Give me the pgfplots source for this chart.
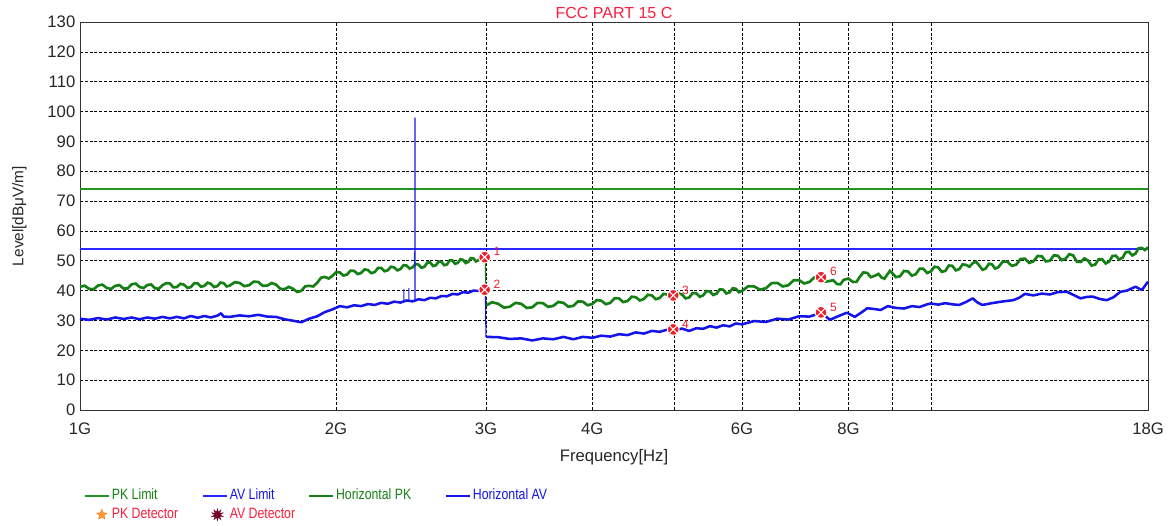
\documentclass[border=0pt]{standalone}
\usepackage{pgfplots}
\pgfplotsset{compat=1.18}
\usepackage{fontspec}
\setmainfont{Liberation Sans}
\newfontfamily\legfont[FakeStretch=0.82]{Liberation Sans}
\usetikzlibrary{shapes.geometric}
\definecolor{pkgreen}{RGB}{22,128,22}
\definecolor{limgreen}{RGB}{34,150,34}
\definecolor{avblue}{RGB}{20,20,235}
\definecolor{limblue}{RGB}{40,40,255}
\definecolor{ttlred}{RGB}{250,30,60}
\definecolor{detred}{RGB}{240,30,40}
\pgfplotsset{
  lineleg/.style={legend image code/.code={\draw[##1, line width=1.2pt, line join=round] (0pt,0pt) -- (18pt,0pt);}},
  pkleg/.style={legend image code/.code={\node[star, star points=5, star point ratio=2.3, fill=orange!75, draw=orange!80!red, line width=0.3pt, inner sep=0pt, text height=0pt, text depth=0pt, text width=0pt, minimum size=8pt] at (10pt,0pt) {};}},
  avleg/.style={legend image code/.code={\node[star, star points=10, star point ratio=2.2, fill=black!40!purple, draw=black!40!purple, line width=0.3pt, inner sep=0pt, text height=0pt, text depth=0pt, text width=0pt, minimum size=9pt] at (8.5pt,0pt) {};}},
}

\pgfplotstableread{
f L
1.000 41.3
1.0125 41.65
1.025 40.6
1.0375 40.45
1.050 41.7
1.0625 42.0
1.075 40.9
1.0875 40.55
1.100 41.6
1.1125 41.85
1.125 40.7
1.1375 40.7
1.150 42.1
1.1625 42.35
1.175 41.2
1.1875 40.85
1.200 41.9
1.2125 42.05
1.225 40.8
1.2375 40.6
1.250 41.8
1.2625 42.5
1.275 42.4
1.2875 41.1
1.300 41.2
1.3125 42.3
1.325 42.0
1.3375 40.9
1.350 41.2
1.3625 42.5
1.375 42.4
1.3875 41.3
1.400 41.6
1.4125 42.65
1.425 42.3
1.4375 41.2
1.450 41.5
1.4625 42.7
1.475 42.5
1.4875 41.4
1.500 41.7
1.52 42.8
1.54 42.6
1.56 41.5
1.58 41.8
1.60 43.0
1.62 42.9
1.64 41.6
1.66 41.7
1.68 42.55
1.70 42.0
1.72 40.55
1.74 40.5
1.76 41.25
1.78 40.6
1.80 39.55
1.82 39.9
1.84 41.45
1.86 41.6
1.88 41.4
1.90 42.6
1.92 44.3
1.94 44.6
1.96 44.05
1.98 44.9
2.00 46.2
2.02 46.1
2.04 45.05
2.06 45.4
2.08 46.7
2.10 46.6
2.12 45.55
2.14 45.9
2.16 47.1
2.18 46.9
2.20 45.85
2.22 46.2
2.24 47.6
2.26 47.6
2.28 46.5
2.30 46.8
2.32 48.0
2.34 47.8
2.36 46.8
2.38 47.2
2.40 48.5
2.42 48.4
2.44 47.4
2.46 47.8
2.48 48.95
2.50 48.7
2.52 47.65
2.54 48.0
2.56 49.4
2.58 49.4
2.60 48.25
2.62 48.5
2.64 49.75
2.66 49.6
2.68 48.5
2.70 48.8
2.72 50.15
2.74 50.1
2.76 49.0
2.78 49.3
2.80 50.5
2.82 50.3
2.84 49.25
2.86 49.6
2.88 50.9
2.90 50.8
2.92 49.8
2.94 50.2
2.96 51.3
2.98 51.0
2.995 50.9
}\pkA

\pgfplotstableread{
f L
3.0 35.0
3.05 36.1
3.1 35.6
3.15 34.3
3.2 34.6
3.25 35.9
3.3 35.6
3.35 34.2
3.4 34.4
3.45 35.9
3.5 35.8
3.55 34.55
3.6 34.9
3.65 36.2
3.7 35.9
3.75 34.6
3.8 34.9
3.85 36.4
3.9 36.3
3.95 35.1
4.0 35.5
4.05 36.85
4.1 36.6
4.15 35.45
4.2 35.9
4.25 37.45
4.3 37.4
4.35 36.15
4.4 36.5
4.45 37.95
4.5 37.8
4.55 36.7
4.6 37.2
4.65 38.6
4.7 38.4
4.75 37.15
4.8 37.5
4.85 38.9
4.9 38.7
4.95 37.55
5.0 38.0
5.05 39.15
5.1 38.7
5.15 37.4
5.2 37.7
5.25 39.2
5.3 39.1
5.35 37.95
5.4 38.4
5.45 39.85
5.5 39.7
5.55 38.55
5.6 39.0
5.65 40.45
5.7 40.3
5.75 39.05
5.8 39.4
5.85 40.8
5.9 40.6
5.95 39.45
6.0 39.9
6.1 41.45
6.2 41.4
6.3 40.3
6.4 40.8
6.5 42.5
6.6 42.6
6.7 41.4
6.8 41.8
6.9 43.45
7.0 43.5
7.1 42.4
7.2 42.9
7.3 44.45
7.43 44.4
7.52 43.0
7.6 43.2
7.68 43.5
7.76 42.2
7.83 42.1
7.9 43.6
8.0 44.05
8.1 42.9
8.18 42.95
8.25 44.6
8.33 46.1
8.42 45.9
8.5 44.5
8.6 45.0
8.68 45.6
8.75 44.4
8.82 44.0
8.9 45.6
8.95 46.6
9.0 46.0
9.1 44.5
9.2 44.8
9.3 46.6
9.4 46.4
9.5 45.0
9.6 45.5
9.7 47.3
9.8 47.3
9.9 45.9
10.0 46.4
10.1 48.0
10.2 47.8
10.3 46.3
10.4 46.6
10.5 48.4
10.6 48.3
10.7 46.8
10.8 47.2
10.9 48.8
11.0 48.6
11.1 48.0
11.2 49.2
11.3 49.7
11.4 48.4
11.5 47.0
11.6 47.4
11.7 49.0
11.8 48.8
11.9 47.4
12.0 47.8
12.15 49.7
12.3 49.7
12.45 48.3
12.6 48.7
12.75 50.6
12.9 50.7
13.05 49.3
13.2 49.8
13.35 51.6
13.5 51.5
13.65 49.8
13.8 50.0
13.95 51.8
14.1 51.7
14.25 50.2
14.4 50.7
14.55 52.2
14.7 51.8
14.85 49.7
15.0 49.6
15.15 50.8
15.3 50.1
15.45 48.4
15.6 48.7
15.75 50.5
15.9 50.5
16.05 49.1
16.2 49.7
16.35 51.6
16.5 51.7
16.65 50.4
16.8 51.0
16.95 52.9
17.1 53.0
17.25 51.8
17.4 52.4
17.55 54.2
17.7 54.3
17.85 53.6
18.0 54.5
}\pkB

\pgfplotstableread{
f L
1.000 30.6
1.025 30.2
1.050 30.8
1.075 30.3
1.100 31.0
1.125 30.5
1.150 31.0
1.175 30.4
1.200 31.0
1.225 30.6
1.250 31.2
1.275 30.7
1.300 31.2
1.325 30.7
1.350 31.5
1.375 30.9
1.400 31.5
1.425 31.0
1.450 31.6
1.465 32.4
1.475 31.3
1.500 31.2
1.54 31.7
1.58 31.4
1.62 31.9
1.66 31.3
1.70 31.2
1.74 30.4
1.78 29.9
1.82 29.4
1.86 30.6
1.90 31.4
1.94 32.8
1.98 33.7
2.02 34.8
2.06 34.4
2.10 35.1
2.14 34.8
2.18 35.5
2.22 35.2
2.26 35.9
2.30 35.6
2.34 36.3
2.38 36.0
2.42 36.7
2.46 36.4
2.50 37.1
2.54 36.8
2.58 37.6
2.62 37.4
2.66 38.2
2.70 38.1
2.74 38.9
2.78 38.7
2.82 39.5
2.86 39.3
2.90 40.0
2.94 39.9
2.98 40.2
2.995 40.2
}\avA

\pgfplotstableread{
f L
3.0 24.5
3.1 24.4
3.2 23.8
3.3 24.0
3.4 23.3
3.5 24.0
3.6 23.7
3.7 24.5
3.8 23.7
3.9 24.5
4.0 24.2
4.1 24.9
4.2 24.6
4.3 25.4
4.4 25.1
4.5 26.0
4.6 25.6
4.7 26.5
4.8 26.2
4.9 26.9
5.0 26.6
5.1 27.3
5.2 26.5
5.3 27.4
5.4 27.2
5.5 28.1
5.6 27.6
5.7 28.4
5.8 28.0
5.9 29.0
6.0 28.7
6.2 29.8
6.4 29.5
6.6 30.6
6.8 30.3
7.0 31.4
7.2 31.3
7.43 32.5
7.52 31.5
7.61 30.2
7.75 31.2
7.97 32.6
8.14 31.2
8.3 32.8
8.42 34.1
8.6 33.8
8.73 33.5
8.9 34.8
9.1 34.2
9.3 34.0
9.5 34.8
9.7 34.5
9.9 35.4
10.0 35.7
10.2 35.3
10.4 35.8
10.6 35.4
10.8 35.2
11.0 36.2
11.2 37.4
11.35 36.0
11.5 35.2
11.8 35.8
12.1 36.3
12.5 36.8
12.7 37.6
12.9 38.9
13.2 38.4
13.5 39.0
13.8 38.7
14.1 39.5
14.46 39.6
14.7 38.6
15.0 37.4
15.25 37.9
15.5 38.0
15.8 37.2
16.1 36.8
16.4 37.8
16.7 39.6
17.0 40.0
17.4 41.3
17.7 40.2
18.0 43.0
}\avB

\pgfplotstableread{
f L lab
2.99 51.2 1
4.98 38.4 3
7.43 44.5 6
}\pkdet

\pgfplotstableread{
f L lab
2.99 40.3 2
4.98 27.0 4
7.43 32.7 5
}\avdet

\begin{document}
\begin{tikzpicture}
\useasboundingbox (-60pt,-86.25pt) rectangle (817.5pt,307.5pt);
\begin{axis}[
  at={(0,0)}, anchor=south west,
  scale only axis, width=801pt, height=291pt,
  xmode=log, xmin=1, xmax=18, ymin=0, ymax=130,
  xtick={1,2,3,4,6,8,18},
  xticklabels={1G,2G,3G,4G,6G,8G,18G},
  minor xtick={5,7,9,10},
  ytick={0,10,...,130},
  xmajorgrids, xminorgrids, ymajorgrids,
  grid style={black, line width=0.5pt, dash pattern=on 2.2pt off 1.4pt},
  minor grid style={black, line width=0.5pt, dash pattern=on 2.2pt off 1.4pt},
  major tick length=0pt, minor tick length=0pt,
  axis line style={black!80, line width=0.7pt},
  /pgf/number format/assume math mode=true,
  tick label style={font=\fontsize{12.5}{14}\selectfont, text=black!85},
  xticklabel style={anchor=center, yshift=-14.25pt},
  xlabel={Frequency[Hz]},
  every axis x label/.style={at={(rel axis cs:0.5,0)}, anchor=center, yshift=-35.25pt, font=\fontsize{12.5}{14}\selectfont, text=black!85},
  ylabel={Level[dBμV/m]},
  every axis y label/.style={at={(rel axis cs:0,0.5)}, anchor=center, rotate=90, yshift=45.5pt, font=\fontsize{11.5}{13}\selectfont, text=black!85},
  title={FCC PART 15 C},
  every axis title/.style={at={(rel axis cs:0.5,1)}, anchor=center, yshift=7pt, font=\fontsize{12}{14}\selectfont, text=ttlred},
  legend columns=4,
  legend cell align=left,
  legend style={at={(rel axis cs:0,0)}, anchor=north west, xshift=3pt, yshift=-58.1pt,
    draw=none, fill=none, inner sep=0pt, font=\legfont\fontsize{11.25}{13}\selectfont,
    nodes={inner xsep=1.5pt, inner ysep=1pt, text height=8pt, text depth=2pt},
    row sep=2.25pt,
    /tikz/column 2/.style={column sep=16.5pt},
    /tikz/column 4/.style={column sep=8.5pt},
    /tikz/column 6/.style={column sep=24pt}},
]
% limits
\addplot[limgreen, line width=1.5pt, lineleg] coordinates {(1,74) (18,74)};
\addlegendentry{\textcolor{pkgreen}{PK Limit}}
\addplot[limblue, line width=1.5pt, lineleg] coordinates {(1,54) (18,54)};
\addlegendentry{\textcolor{avblue}{AV Limit}}
% traces part 1
\addplot[pkgreen, line width=2.0pt, line join=miter, lineleg] table[x=f, y=L] {\pkA};
\addlegendentry{\textcolor{pkgreen}{Horizontal PK}}
\addplot[avblue, line width=1.9pt, line join=round, lineleg] table[x=f, y=L] {\avA};
\addlegendentry{\textcolor{avblue}{Horizontal AV}}
% traces part 2
\addplot[pkgreen, line width=2.0pt, line join=miter, forget plot] table[x=f, y=L] {\pkB};
\addplot[pkgreen, line width=0.8pt, forget plot, unbounded coords=jump]
  coordinates {(2.995,50.9) (3.0,35.0) (3.0,nan) (2.472,48.0) (2.472,53.0)};
\addplot[avblue, line width=1.9pt, line join=round, forget plot] table[x=f, y=L] {\avB};
\addplot[avblue, line width=0.8pt, forget plot, unbounded coords=jump]
  coordinates {(2.995,40.2) (3.0,24.5) (3.0,nan) (2.402,36.3) (2.402,40.5) (2.41,nan)
  (2.435,36.5) (2.435,40.8) (2.45,nan) (2.476,36.8) (2.476,98.0)};
% detectors
\addplot[only marks, mark=otimes*, mark size=4.4pt,
  mark options={fill=detred, draw=white, line width=0.8pt},
  nodes near coords, point meta=explicit symbolic,
  nodes near coords style={anchor=west, xshift=3pt, yshift=4pt, text=detred, font=\fontsize{9}{10}\selectfont},
  pkleg]
  table[x=f, y=L, meta=lab] {\pkdet};
\addlegendentry{\textcolor{ttlred}{PK Detector}}
\addplot[only marks, mark=otimes*, mark size=4.4pt,
  mark options={fill=detred, draw=white, line width=0.8pt},
  nodes near coords, point meta=explicit symbolic,
  nodes near coords style={anchor=west, xshift=3pt, yshift=4pt, text=detred, font=\fontsize{9}{10}\selectfont},
  avleg]
  table[x=f, y=L, meta=lab] {\avdet};
\addlegendentry{\textcolor{ttlred}{AV Detector}}
\end{axis}
\end{tikzpicture}
\end{document}
